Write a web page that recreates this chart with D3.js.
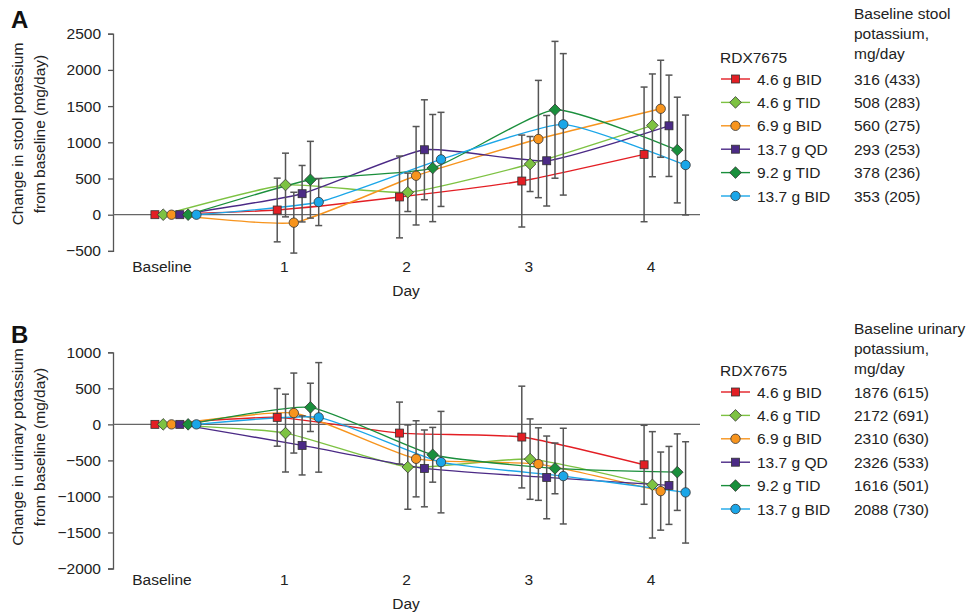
<!DOCTYPE html>
<html>
<head>
<meta charset="utf-8">
<script src="https://cdn.jsdelivr.net/npm/d3@7"></script>
<style>
  body { margin: 0; background: #fff; }
  svg { font-family: "Liberation Sans", Arial, sans-serif; }
</style>
</head>
<body>
<div id="chart"></div>
<script>
// categories and series
const days = ["Baseline", "1", "2", "3", "4"];
const seriesNames = ["4.6 g BID", "4.6 g TID", "6.9 g BID", "13.7 g QD", "9.2 g TID", "13.7 g BID"];
const fills = ["#e31e24", "#7dc242", "#f7941d", "#4b2a86", "#1a8f3c", "#1ba6e8"];
const shapes = ["square", "diamond", "circle", "square", "diamond", "circle"];

// panel A: change in stool potassium (mean, error half-width)
const stoolMeans = [
  [0, 65, 245, 465, 833],
  [0, 410, 309, 700, 1234],
  [0, -110, 538, 1045, 1463],
  [0, 290, 897, 745, 1228],
  [0, 483, 644, 1449, 893],
  [0, 175, 764, 1248, 686]
];
const stoolErr = [
  [null, 440, 565, 635, 930],
  [null, 440, 265, 380, 710],
  [null, 420, 680, 810, 670],
  [null, 390, 690, 625, 700],
  [null, 530, 740, 945, 730],
  [null, 325, 650, 977, 690]
];
const stoolBaseline = ["316 (433)", "508 (283)", "560 (275)", "293 (253)", "378 (236)", "353 (205)"];

// panel B: change in urinary potassium
const urineMeans = [
  [0, 97, -121, -176, -561],
  [0, -121, -593, -482, -839],
  [0, 157, -478, -551, -926],
  [0, -292, -611, -736, -847],
  [0, 236, -422, -611, -663],
  [0, 97, -524, -718, -944]
];
const urineErr = [
  [null, 400, 430, 706, 548],
  [null, 540, 585, 558, 738],
  [null, 555, 528, 503, 542],
  [null, 410, 533, 574, 541],
  [null, 335, 380, 352, 531],
  [null, 760, 704, 664, 703]
];
const urineBaseline = ["1876 (615)", "2172 (691)", "2310 (630)", "2326 (533)", "1616 (501)", "2088 (730)"];

const stoolTicks = [-500, 0, 500, 1000, 1500, 2000, 2500];
const urineTicks = [-2000, -1500, -1000, -500, 0, 500, 1000];

const svg = d3.select("#chart").append("svg")
  .attr("width", 975)
  .attr("height", 616);

const x = d3.scalePoint().domain(days).range([113, 700]).padding(0.4);
const offset = i => -7 + i * 8.3;

function marker(g, shape, fill) {
  if (shape === "square") {
    g.append("rect").attr("x", -4).attr("y", -4).attr("width", 8).attr("height", 8);
  } else if (shape === "diamond") {
    g.append("path").attr("d", "M0,-5.8L5.8,0L0,5.8L-5.8,0Z");
  } else {
    g.append("circle").attr("r", 4.7);
  }
  g.selectAll("*").attr("fill", fill).attr("stroke", "#333").attr("stroke-width", 0.8);
}

function panel(cfg) {
  const y = d3.scaleLinear().domain(cfg.domain).range(cfg.range);
  const g = svg.append("g");

  // y axis
  const ax = g.append("g")
    .attr("transform", "translate(113,0)")
    .call(d3.axisLeft(y).tickValues(cfg.ticks).tickFormat(d3.format("d")).tickSize(5).tickPadding(7));
  ax.select(".domain").attr("stroke", "#555").attr("stroke-width", 1.3);
  ax.selectAll(".tick line").attr("stroke", "#555").attr("stroke-width", 1.3);
  ax.selectAll(".tick text").attr("font-size", 15.5).attr("fill", "#222")
    .attr("font-family", "Liberation Sans, Arial, sans-serif");

  // zero line
  g.append("line")
    .attr("x1", 113).attr("x2", 700)
    .attr("y1", y(0)).attr("y2", y(0))
    .attr("stroke", "#666").attr("stroke-width", 1.3);

  // x labels
  g.selectAll(".xlab").data(days).enter().append("text")
    .attr("x", d => x(d))
    .attr("y", cfg.xLabelY)
    .attr("text-anchor", "middle")
    .attr("font-size", 15.5).attr("fill", "#222")
    .text(d => d);
  g.append("text")
    .attr("x", 406).attr("y", cfg.xLabelY + 24)
    .attr("text-anchor", "middle")
    .attr("font-size", 15.5).attr("fill", "#222")
    .text("Day");

  // y title
  const t = g.append("text")
    .attr("transform", `translate(0,${cfg.titleY}) rotate(-90)`)
    .attr("text-anchor", "middle")
    .attr("font-size", 15.5).attr("fill", "#222");
  t.append("tspan").attr("x", 0).attr("y", 23).text(cfg.title[0]);
  t.append("tspan").attr("x", 0).attr("y", 45).text(cfg.title[1]);

  // panel letter
  g.append("text")
    .attr("x", 11).attr("y", cfg.letterY)
    .attr("font-size", 24).attr("font-weight", "bold").attr("fill", "#111")
    .text(cfg.letter);

  const line = d3.line()
    .x(d => d.x)
    .y(d => y(d.v))
    .curve(d3.curveCardinal.tension(0.5));

  const pts = cfg.means.map((arr, i) => arr.map((v, j) => ({
    x: x(days[j]) + offset(i), v: v, e: cfg.err[i][j]
  })));

  // lines
  pts.forEach((p, i) => {
    g.append("path").datum(p)
      .attr("d", line)
      .attr("fill", "none")
      .attr("stroke", fills[i])
      .attr("stroke-width", 1.4);
  });

  // error bars
  pts.forEach(p => {
    p.filter(d => d.e != null).forEach(d => {
      const eb = g.append("g").attr("stroke", "#555").attr("stroke-width", 1.5);
      eb.append("line").attr("x1", d.x).attr("x2", d.x).attr("y1", y(d.v - d.e)).attr("y2", y(d.v + d.e));
      eb.append("line").attr("x1", d.x - 3.5).attr("x2", d.x + 3.5).attr("y1", y(d.v - d.e)).attr("y2", y(d.v - d.e));
      eb.append("line").attr("x1", d.x - 3.5).attr("x2", d.x + 3.5).attr("y1", y(d.v + d.e)).attr("y2", y(d.v + d.e));
    });
  });

  // markers
  pts.forEach((p, i) => {
    p.forEach(d => {
      const m = g.append("g").attr("transform", `translate(${d.x},${y(d.v)})`);
      marker(m, shapes[i], fills[i]);
    });
  });

  // legend
  const lg = svg.append("g");
  lg.append("text").attr("x", 720).attr("y", cfg.legendTop + 5.5)
    .attr("font-size", 15.5).attr("fill", "#222").text("RDX7675");
  cfg.header.forEach((h, k) => {
    lg.append("text").attr("x", 854).attr("y", cfg.headerTop + k * 20 + 5.5)
      .attr("font-size", 15.5).attr("fill", "#222").text(h);
  });
  seriesNames.forEach((name, i) => {
    const cy = cfg.legendTop + 22 + i * 23.4;
    lg.append("line").attr("x1", 721).attr("x2", 750).attr("y1", cy).attr("y2", cy)
      .attr("stroke", fills[i]).attr("stroke-width", 1.4);
    const m = lg.append("g").attr("transform", `translate(735.5,${cy})`);
    marker(m, shapes[i], fills[i]);
    lg.append("text").attr("x", 757).attr("y", cy + 5.5)
      .attr("font-size", 15.5).attr("fill", "#222").text(name);
    lg.append("text").attr("x", 854).attr("y", cy + 5.5)
      .attr("font-size", 15.5).attr("fill", "#222").text(cfg.baseline[i]);
  });
}

panel({
  domain: [-500, 2500], range: [250.9, 33.7], ticks: stoolTicks,
  means: stoolMeans, err: stoolErr, baseline: stoolBaseline,
  xLabelY: 272, titleY: 134, letter: "A", letterY: 28,
  title: ["Change in stool potassium", "from baseline (mg/day)"],
  legendTop: 57, headerTop: 13,
  header: ["Baseline stool", "potassium,", "mg/day"]
});

panel({
  domain: [-2000, 1000], range: [568.5, 352.3], ticks: urineTicks,
  means: urineMeans, err: urineErr, baseline: urineBaseline,
  xLabelY: 585, titleY: 447, letter: "B", letterY: 343,
  title: ["Change in urinary potassium", "from baseline (mg/day)"],
  legendTop: 370, headerTop: 328,
  header: ["Baseline urinary", "potassium,", "mg/day"]
});
</script>
</body>
</html>
